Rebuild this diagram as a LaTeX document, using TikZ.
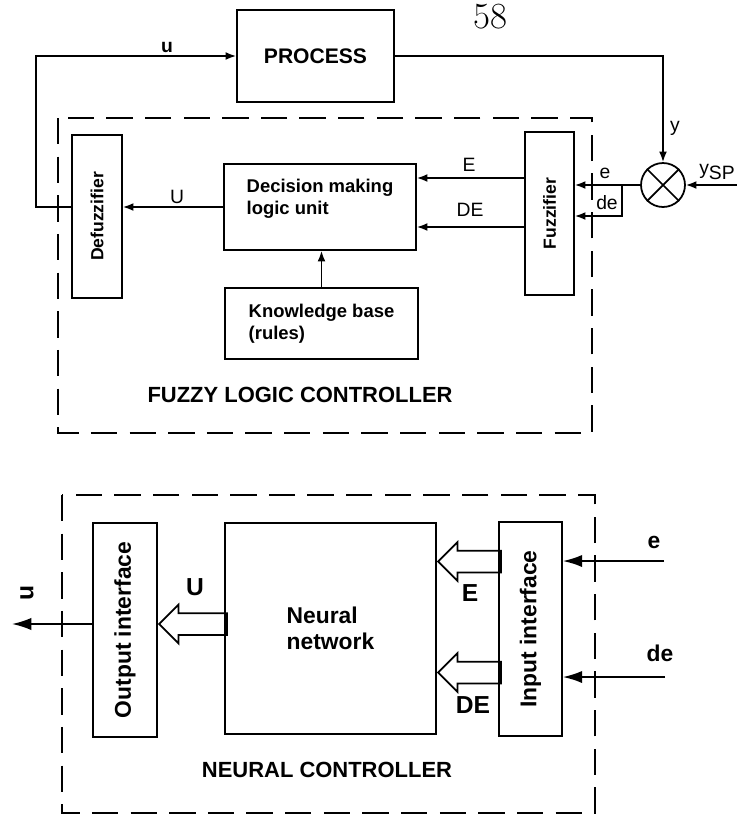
\documentclass[tikz,border=0pt]{standalone}
\usepackage{fontspec}
\setsansfont{Liberation Sans}
\usetikzlibrary{shapes,arrows.meta,positioning}

\begin{document}
\begin{tikzpicture}[
    x=0.02cm, y=-0.02cm,
    every node/.style={font=\sffamily\bfseries},
    box/.style={draw, line width=1pt, inner sep=0pt},
    frame/.style={line width=1.1pt, dash pattern=on 15pt off 7pt},
    arrow/.style={-{Latex[length=6pt,width=4.5pt]}, line width=1pt},
    bigarrow/.style={-{Latex[length=11pt,width=7pt]}, line width=1pt},
    hollow/.style={draw, line width=1pt, single arrow, shape border rotate=180, inner sep=0.2cm, single arrow head extend=0.17cm, anchor=tip},
    small/.style={font=\sffamily\fontsize{11}{11}\selectfont},
    mid/.style={font=\sffamily\bfseries\fontsize{10.5}{12.5}\selectfont},
    big/.style={font=\sffamily\bfseries\fontsize{13}{15}\selectfont},
    title/.style={font=\sffamily\bfseries\fontsize{12.5}{14}\selectfont}
]
\useasboundingbox (0,0) rectangle (737,816);

\node[font=\rmfamily\fontsize{21}{21}\selectfont, anchor=base, inner sep=0pt] (page) at (490,28) {58};
\node[box, minimum width=3.14cm, minimum height=1.84cm, font=\sffamily\bfseries\fontsize{12}{14}\selectfont] (proc) at (315.5,56) {PROCESS};
\node[box, minimum width=1cm, minimum height=3.26cm, label={[rotate=90, font=\sffamily\bfseries\fontsize{10}{10}\selectfont]center:Defuzzifier}] (defz) at (97,216.5) {};
\node[box, minimum width=3.84cm, minimum height=1.72cm, label={[align=left, yshift=0.16cm, mid]center:Decision making\\logic unit}] (dec) at (320,207) {};
\node[box, minimum width=3.86cm, minimum height=1.42cm, align=left, mid] (kb) at (321.5,323.5) {Knowledge base\\(rules)};
\node[box, minimum width=0.98cm, minimum height=3.26cm, label={[rotate=90, font=\sffamily\bfseries\fontsize{10}{10}\selectfont]center:Fuzzifier}] (fuzz) at (549.5,213.5) {};
\node[circle, draw, line width=1pt, minimum size=0.88cm, inner sep=0pt] (sum) at (663,185) {};
\draw[line width=1pt] (sum.north west) -- (sum.south east) (sum.north east) -- (sum.south west);
\coordinate (ysp) at (737,185);
\coordinate (jn) at (622,185);

\draw[frame] (58,118) rectangle (592,433);
\node[title] (flc) at (300,395) {FUZZY LOGIC CONTROLLER};

\draw[arrow] (defz.west |- dec.west) -- ++(-35,0) |- (proc.west);
\draw[arrow] (dec.west) -- (defz.east |- dec.west);
\draw[arrow] (fuzz.west |- 0,178) -- (dec.east |- 0,178);
\draw[arrow] (fuzz.west |- 0,227) -- (dec.east |- 0,227);
\draw[arrow] (kb.north) -- (kb.north |- dec.south);
\draw[arrow] (proc.east) -| (sum.north);
\draw[arrow] (ysp) -- (sum.east);
\draw[arrow] (sum.west) -- (fuzz.east |- sum.west);
\draw[arrow] (jn) |- (fuzz.east |- 0,216);

\node[font=\sffamily\bfseries\fontsize{11}{11}\selectfont] (ulbl) at (167,47) {u};
\node[small] (Ulbl) at (177,197) {U};
\node[small] (Elbl) at (469,165) {E};
\node[small] (DElbl) at (470,210) {DE};
\node[small] (elbl) at (605,173) {e};
\node[small] (delbl) at (607,203) {de};
\node[small] (ylbl) at (675,128) {y};
\node[small] (ysplbl) at (717,172) {y\raisebox{-3pt}{SP}};

\draw[frame] (62,495) rectangle (595,813);
\node[box, minimum width=1.28cm, minimum height=4.28cm, label={[rotate=90, big]center:Output interface}] (oi) at (125,630) {};
\node[box, minimum width=4.22cm, minimum height=4.22cm, align=left, big] (nn) at (330.5,628.5) {Neural\\network};
\node[box, minimum width=1.26cm, minimum height=4.28cm, label={[rotate=90, big]center:Input interface}] (ii) at (530.5,629) {};
\node[hollow, minimum height=1.36cm] (uarr) at (oi.east |- 0,624) {};
\node[hollow, minimum height=1.26cm] (earr) at (nn.east |- 0,561.5) {};
\node[hollow, minimum height=1.26cm] (dearr) at (nn.east |- 0,672.5) {};
\coordinate (uout) at (12,624);
\coordinate (ein) at (664,561);
\coordinate (dein) at (665,677);
\draw[bigarrow] (oi.west |- uout) -- (uout);
\draw[bigarrow] (ein) -- (ii.east |- ein);
\draw[bigarrow] (dein) -- (ii.east |- dein);

\node[font=\sffamily\bfseries\fontsize{14}{14}\selectfont, rotate=90] (uolbl) at (27,593) {u};
\node[font=\sffamily\bfseries\fontsize{14}{14}\selectfont] (Uolbl) at (195,587) {U};
\node[font=\sffamily\bfseries\fontsize{14}{14}\selectfont] (Eilbl) at (470,593) {E};
\node[font=\sffamily\bfseries\fontsize{14}{14}\selectfont] (DEilbl) at (473,705) {DE};
\node[big] (eilbl) at (654,542) {e};
\node[big] (deilbl) at (660,653) {de};
\node[title] (nclbl) at (327,770) {NEURAL CONTROLLER};
\end{tikzpicture}
\end{document}
